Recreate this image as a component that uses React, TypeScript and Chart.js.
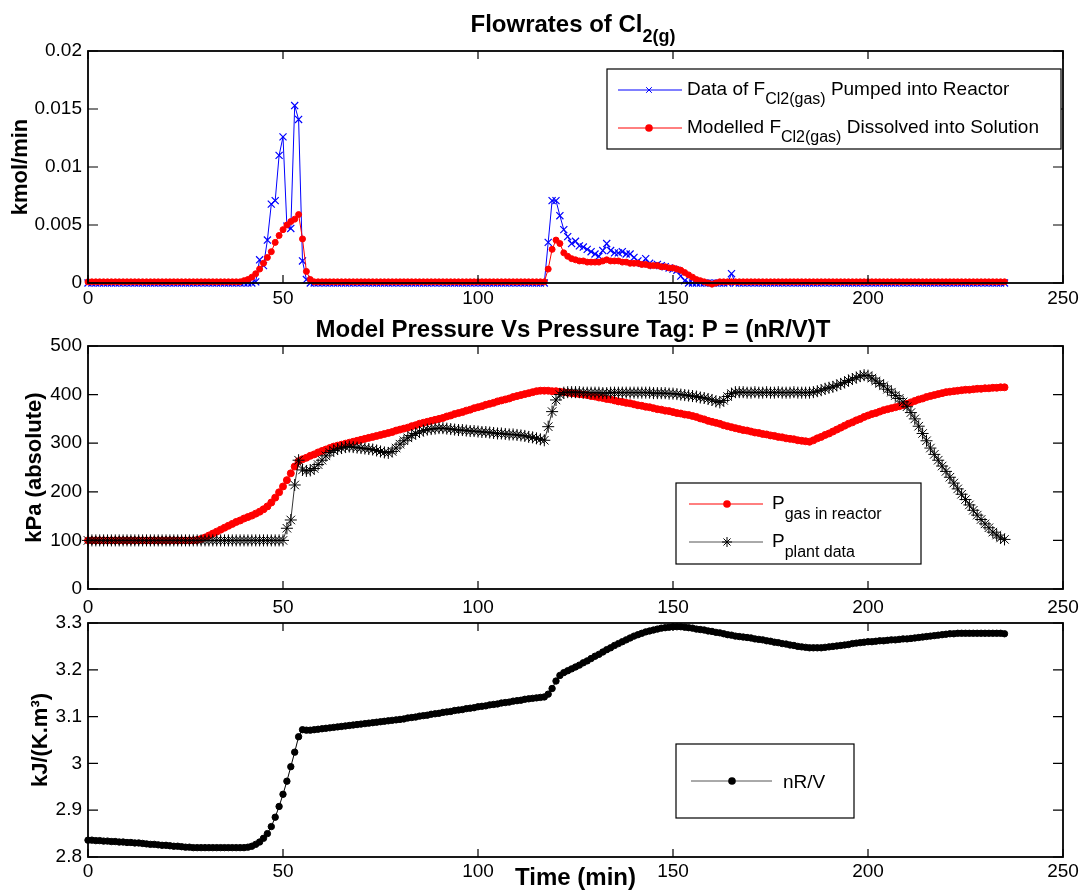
import React, { useEffect, useRef } from 'react';
import { Chart, registerables } from 'chart.js';

Chart.register(...registerables);

const FONT = "'Liberation Sans', Arial, Helvetica, sans-serif";

// ---------------- data ----------------
const TIME = [
  0, 1, 2, 3, 4, 5, 6, 7, 8, 9,
  10, 11, 12, 13, 14, 15, 16, 17, 18, 19,
  20, 21, 22, 23, 24, 25, 26, 27, 28, 29,
  30, 31, 32, 33, 34, 35, 36, 37, 38, 39,
  40, 41, 42, 43, 44, 45, 46, 47, 48, 49,
  50, 51, 52, 53, 54, 55, 56, 57, 58, 59,
  60, 61, 62, 63, 64, 65, 66, 67, 68, 69,
  70, 71, 72, 73, 74, 75, 76, 77, 78, 79,
  80, 81, 82, 83, 84, 85, 86, 87, 88, 89,
  90, 91, 92, 93, 94, 95, 96, 97, 98, 99,
  100, 101, 102, 103, 104, 105, 106, 107, 108, 109,
  110, 111, 112, 113, 114, 115, 116, 117, 118, 119,
  120, 121, 122, 123, 124, 125, 126, 127, 128, 129,
  130, 131, 132, 133, 134, 135, 136, 137, 138, 139,
  140, 141, 142, 143, 144, 145, 146, 147, 148, 149,
  150, 151, 152, 153, 154, 155, 156, 157, 158, 159,
  160, 161, 162, 163, 164, 165, 166, 167, 168, 169,
  170, 171, 172, 173, 174, 175, 176, 177, 178, 179,
  180, 181, 182, 183, 184, 185, 186, 187, 188, 189,
  190, 191, 192, 193, 194, 195, 196, 197, 198, 199,
  200, 201, 202, 203, 204, 205, 206, 207, 208, 209,
  210, 211, 212, 213, 214, 215, 216, 217, 218, 219,
  220, 221, 222, 223, 224, 225, 226, 227, 228, 229,
  230, 231, 232, 233, 234, 235,
];

// Data of F_Cl2(gas) pumped into reactor (kmol/min)
const CL2_PUMPED = [
  0, 0, 0, 0, 0, 0, 0, 0, 0, 0,
  0, 0, 0, 0, 0, 0, 0, 0, 0, 0,
  0, 0, 0, 0, 0, 0, 0, 0, 0, 0,
  0, 0, 0, 0, 0, 0, 0, 0, 0, 0,
  0, 0, 0, 0.0001, 0.002, 0.0015, 0.0037, 0.0068, 0.0071, 0.011,
  0.0126, 0.0049, 0.0047, 0.0153, 0.0141, 0.0019, 0.0003, 0, 0, 0,
  0, 0, 0, 0, 0, 0, 0, 0, 0, 0,
  0, 0, 0, 0, 0, 0, 0, 0, 0, 0,
  0, 0, 0, 0, 0, 0, 0, 0, 0, 0,
  0, 0, 0, 0, 0, 0, 0, 0, 0, 0,
  0, 0, 0, 0, 0, 0, 0, 0, 0, 0,
  0, 0, 0, 0, 0, 0, 0, 0, 0.0035, 0.0071,
  0.0071, 0.0058, 0.0046, 0.004, 0.0034, 0.0036, 0.0032, 0.0031, 0.0029, 0.0027,
  0.0025, 0.0023, 0.0028, 0.0034, 0.0028, 0.0026, 0.0026, 0.0027, 0.0025, 0.0025,
  0.0022, 0.0019, 0.0017, 0.0021, 0.0017, 0.0015, 0.0016, 0.0015, 0.0014, 0.0013,
  0.0012, 0.0011, 0.0006, 0.0002, 0, 0, 0, 0, 0, 0,
  0, 0, 0, 0, 0, 0.0008, 0, 0, 0, 0,
  0, 0, 0, 0, 0, 0, 0, 0, 0, 0,
  0, 0, 0, 0, 0, 0, 0, 0, 0, 0,
  0, 0, 0, 0, 0, 0, 0, 0, 0, 0,
  0, 0, 0, 0, 0, 0, 0, 0, 0, 0,
  0, 0, 0, 0, 0, 0, 0, 0, 0, 0,
  0, 0, 0, 0, 0, 0, 0, 0, 0, 0,
  0, 0, 0, 0, 0, 0,
];

// Modelled F_Cl2(gas) dissolved into solution (kmol/min)
const CL2_DISSOLVED = [
  0.0001, 0.0001, 0.0001, 0.0001, 0.0001, 0.0001, 0.0001, 0.0001, 0.0001, 0.0001,
  0.0001, 0.0001, 0.0001, 0.0001, 0.0001, 0.0001, 0.0001, 0.0001, 0.0001, 0.0001,
  0.0001, 0.0001, 0.0001, 0.0001, 0.0001, 0.0001, 0.0001, 0.0001, 0.0001, 0.0001,
  0.0001, 0.0001, 0.0001, 0.0001, 0.0001, 0.0001, 0.0001, 0.0001, 0.0001, 0.0001,
  0.0002, 0.0003, 0.0005, 0.0008, 0.0012, 0.0017, 0.0022, 0.0027, 0.0035, 0.0041,
  0.0046, 0.005, 0.0053, 0.0055, 0.0059, 0.0038, 0.001, 0.0003, 0.0001, 0.0001,
  0.0001, 0.0001, 0.0001, 0.0001, 0.0001, 0.0001, 0.0001, 0.0001, 0.0001, 0.0001,
  0.0001, 0.0001, 0.0001, 0.0001, 0.0001, 0.0001, 0.0001, 0.0001, 0.0001, 0.0001,
  0.0001, 0.0001, 0.0001, 0.0001, 0.0001, 0.0001, 0.0001, 0.0001, 0.0001, 0.0001,
  0.0001, 0.0001, 0.0001, 0.0001, 0.0001, 0.0001, 0.0001, 0.0001, 0.0001, 0.0001,
  0.0001, 0.0001, 0.0001, 0.0001, 0.0001, 0.0001, 0.0001, 0.0001, 0.0001, 0.0001,
  0.0001, 0.0001, 0.0001, 0.0001, 0.0001, 0.0001, 0.0001, 0.0001, 0.0012, 0.0029,
  0.0037, 0.0034, 0.0026, 0.0023, 0.0021, 0.002, 0.0019, 0.0019, 0.0018, 0.0018,
  0.0018, 0.0018, 0.0019, 0.002, 0.0019, 0.0019, 0.0019, 0.0018, 0.0018, 0.0017,
  0.0017, 0.0017, 0.0016, 0.0016, 0.0015, 0.0015, 0.0015, 0.0014, 0.0014, 0.0013,
  0.0013, 0.0012, 0.0011, 0.0009, 0.0007, 0.0005, 0.0003, 0.0002, 0.0001, 0,
  -0.0001, 0, 0.0001, 0.0001, 0.0001, 0.0001, 0.0001, 0.0001, 0.0001, 0.0001,
  0.0001, 0.0001, 0.0001, 0.0001, 0.0001, 0.0001, 0.0001, 0.0001, 0.0001, 0.0001,
  0.0001, 0.0001, 0.0001, 0.0001, 0.0001, 0.0001, 0.0001, 0.0001, 0.0001, 0.0001,
  0.0001, 0.0001, 0.0001, 0.0001, 0.0001, 0.0001, 0.0001, 0.0001, 0.0001, 0.0001,
  0.0001, 0.0001, 0.0001, 0.0001, 0.0001, 0.0001, 0.0001, 0.0001, 0.0001, 0.0001,
  0.0001, 0.0001, 0.0001, 0.0001, 0.0001, 0.0001, 0.0001, 0.0001, 0.0001, 0.0001,
  0.0001, 0.0001, 0.0001, 0.0001, 0.0001, 0.0001, 0.0001, 0.0001, 0.0001, 0.0001,
  0.0001, 0.0001, 0.0001, 0.0001, 0.0001, 0.0001,
];

// P gas in reactor (kPa absolute)
const P_GAS = [
  100, 100, 100, 100, 100, 100, 100, 100, 100, 100,
  100, 100, 100, 100, 100, 100, 100, 100, 100, 100,
  100, 100, 100, 100, 100, 100, 100, 100, 101, 103,
  106, 110, 114, 118, 122, 126, 130, 134, 138, 141,
  145, 148, 151, 155, 159, 164, 170, 178, 188, 199,
  211, 224, 238, 252, 263, 267, 270, 274, 277, 281,
  284, 287, 290, 293, 295, 297, 299, 301, 303, 305,
  307, 309, 311, 313, 315, 317, 319, 321, 323, 326,
  328, 330, 332, 335, 337, 340, 342, 344, 346, 348,
  350, 352, 355, 357, 360, 362, 364, 367, 369, 372,
  374, 376, 379, 381, 383, 386, 388, 390, 392, 395,
  397, 399, 401, 403, 405, 407, 408, 408, 408, 407,
  407, 406, 405, 404, 403, 402, 401, 400, 399, 397,
  396, 394, 393, 391, 390, 388, 386, 385, 383, 382,
  380, 378, 377, 375, 374, 372, 370, 369, 367, 366,
  364, 362, 361, 359, 358, 356, 354, 351, 349, 346,
  344, 342, 340, 337, 335, 333, 331, 329, 327, 326,
  324, 322, 321, 319, 318, 316, 315, 313, 312, 310,
  309, 308, 306, 305, 304, 303, 306, 310, 313, 317,
  320, 324, 328, 332, 336, 340, 343, 347, 350, 354,
  357, 360, 362, 365, 368, 370, 372, 374, 376, 378,
  381, 384, 387, 390, 392, 395, 397, 399, 401, 403,
  405, 406, 407, 408, 409, 410, 410, 411, 412, 412,
  413, 413, 414, 414, 415, 415,
];

// P plant data (kPa absolute)
const P_PLANT = [
  100, 100, 100, 100, 100, 100, 100, 100, 100, 100,
  100, 100, 100, 100, 100, 100, 100, 100, 100, 100,
  100, 100, 100, 100, 100, 100, 100, 100, 100, 100,
  100, 100, 100, 100, 100, 100, 100, 100, 100, 100,
  100, 100, 100, 100, 100, 100, 100, 100, 100, 100,
  100, 125, 142, 214, 265, 245, 243, 244, 248, 256,
  265, 274, 281, 285, 288, 290, 292, 293, 292, 291,
  290, 289, 288, 287, 285, 283, 281, 280, 283, 290,
  298, 305, 311, 316, 320, 323, 326, 328, 329, 330,
  331, 331, 330, 329, 328, 327, 327, 326, 325, 325,
  324, 323, 323, 322, 321, 320, 320, 319, 318, 318,
  317, 316, 315, 313, 312, 310, 308, 306, 334, 365,
  389, 400, 404, 405, 405, 405, 405, 404, 404, 404,
  404, 404, 403, 403, 404, 404, 404, 404, 404, 404,
  404, 404, 404, 404, 404, 403, 403, 403, 403, 402,
  402, 401, 400, 399, 398, 397, 396, 394, 393, 391,
  389, 386, 384, 388, 396, 402, 405, 405, 405, 404,
  404, 405, 404, 404, 405, 404, 404, 405, 404, 404,
  404, 405, 404, 404, 404, 404, 405, 407, 409, 412,
  414, 416, 419, 422, 425, 429, 432, 435, 438, 440,
  439, 434, 428, 423, 418, 411, 405, 398, 392, 385,
  375, 363, 350, 335, 320, 305, 290, 277, 265, 253,
  242, 230, 218, 206, 195, 184, 173, 162, 152, 143,
  134, 126, 117, 111, 105, 102,
];

// nR/V (kJ/(K.m3))
const NRV = [
  2.836, 2.836, 2.835, 2.835, 2.834, 2.834, 2.833, 2.833, 2.832, 2.832,
  2.831, 2.831, 2.83, 2.83, 2.829, 2.828, 2.827, 2.827, 2.826, 2.825,
  2.825, 2.824, 2.823, 2.823, 2.822, 2.821, 2.821, 2.82, 2.82, 2.82,
  2.82, 2.82, 2.82, 2.82, 2.82, 2.82, 2.82, 2.82, 2.82, 2.82,
  2.82, 2.821, 2.823, 2.827, 2.832, 2.84, 2.85, 2.865, 2.885, 2.908,
  2.934, 2.962, 2.993, 3.024, 3.057, 3.072, 3.071, 3.071, 3.072, 3.073,
  3.074, 3.075, 3.076, 3.077, 3.078, 3.079, 3.08, 3.081, 3.082, 3.083,
  3.084, 3.085, 3.086, 3.087, 3.088, 3.089, 3.09, 3.091, 3.092, 3.093,
  3.094, 3.095, 3.097, 3.098, 3.099, 3.101, 3.102, 3.103, 3.105, 3.106,
  3.107, 3.109, 3.11, 3.111, 3.113, 3.114, 3.115, 3.117, 3.118, 3.119,
  3.121, 3.122, 3.123, 3.125, 3.126, 3.127, 3.129, 3.13, 3.131, 3.133,
  3.134, 3.135, 3.137, 3.138, 3.139, 3.14, 3.141, 3.142, 3.148, 3.16,
  3.176, 3.188, 3.194, 3.198, 3.202, 3.206, 3.21, 3.215, 3.219, 3.224,
  3.229, 3.233, 3.238, 3.243, 3.247, 3.252, 3.256, 3.26, 3.264, 3.268,
  3.272, 3.275, 3.278, 3.281, 3.283, 3.285, 3.287, 3.289, 3.29, 3.291,
  3.292, 3.292, 3.292, 3.291, 3.29, 3.289, 3.287, 3.286, 3.285, 3.283,
  3.282, 3.28, 3.279, 3.277, 3.275, 3.274, 3.272, 3.271, 3.27, 3.269,
  3.268, 3.266, 3.265, 3.264, 3.262, 3.261, 3.259, 3.258, 3.256, 3.255,
  3.253, 3.252, 3.25, 3.249, 3.248, 3.247, 3.247, 3.247, 3.247, 3.248,
  3.249, 3.25, 3.251, 3.252, 3.253, 3.254, 3.256, 3.257, 3.258, 3.259,
  3.26, 3.26, 3.261, 3.262, 3.262, 3.263, 3.264, 3.264, 3.265, 3.266,
  3.266, 3.267, 3.268, 3.269, 3.27, 3.271, 3.272, 3.273, 3.274, 3.275,
  3.276, 3.277, 3.277, 3.278, 3.278, 3.278, 3.278, 3.278, 3.278, 3.278,
  3.278, 3.278, 3.278, 3.278, 3.278, 3.277,
];

const X_TICKS = [0, 50, 100, 150, 200, 250];
const FLOW_TICKS = [0, 0.005, 0.01, 0.015, 0.02];
const FLOW_TICK_LABELS = ['0', '0.005', '0.01', '0.015', '0.02'];
const PRESS_TICKS = [0, 100, 200, 300, 400, 500];
const PRESS_TICK_LABELS = ['0', '100', '200', '300', '400', '500'];
const NRV_TICKS = [2.8, 2.9, 3, 3.1, 3.2, 3.3];
const NRV_TICK_LABELS = ['2.8', '2.9', '3', '3.1', '3.2', '3.3'];

const pts = (ys: number[]) => TIME.map((t, i) => ({ x: t, y: ys[i] }));

// ---------------- drawing helpers ----------------
type Seg = { t: string; sub?: boolean };

function richWidth(ctx: CanvasRenderingContext2D, segs: Seg[], mainFont: string, subFont: string) {
  let w = 0;
  for (const s of segs) {
    ctx.font = s.sub ? subFont : mainFont;
    w += ctx.measureText(s.t).width;
  }
  return w;
}

function drawRich(ctx: CanvasRenderingContext2D, segs: Seg[], x: number, base: number, mainFont: string, subFont: string, subDy: number) {
  let cx = x;
  ctx.textAlign = 'left';
  ctx.textBaseline = 'alphabetic';
  for (const s of segs) {
    ctx.font = s.sub ? subFont : mainFont;
    ctx.fillText(s.t, cx, s.sub ? base + subDy : base);
    cx += ctx.measureText(s.t).width;
  }
}

function drawMarker(ctx: CanvasRenderingContext2D, kind: string, x: number, y: number, color: string, r: number) {
  ctx.save();
  ctx.strokeStyle = color;
  ctx.fillStyle = color;
  ctx.lineWidth = 1;
  ctx.beginPath();
  if (kind === 'circle') {
    ctx.arc(x, y, r, 0, Math.PI * 2);
    ctx.fill();
  } else {
    const angles = kind === 'star' ? [0, 45, 90, 135] : [45, 135];
    for (const a of angles) {
      const dx = Math.cos((a * Math.PI) / 180) * r;
      const dy = Math.sin((a * Math.PI) / 180) * r;
      ctx.moveTo(x - dx, y - dy);
      ctx.lineTo(x + dx, y + dy);
    }
    ctx.stroke();
  }
  ctx.restore();
}

type Row = { dy: number; segs: Seg[]; lineColor: string; markerColor: string; marker: string; r: number };
type DecorCfg = {
  title?: { segs: Seg[]; cx: number; base: number; size: number; subSize: number; subDy: number };
  legend: {
    x: number; y: number; w: number; h: number;
    lineX0: number; lineX1: number; markerX: number; textX: number;
    baseDy: number; size: number; subSize: number; subDy: number;
    rows: Row[];
  };
};

function decorPlugin(id: string, cfg: DecorCfg) {
  return {
    id,
    afterDraw(chart: any) {
      const { ctx, chartArea: a, scales } = chart;
      const xs = scales.x;
      const ys = scales.y;
      ctx.save();
      // axes box with inward ticks (MATLAB style)
      ctx.strokeStyle = '#000';
      ctx.lineWidth = 1.8;
      ctx.strokeRect(a.left, a.top, a.right - a.left, a.bottom - a.top);
      ctx.lineWidth = 1.2;
      ctx.beginPath();
      for (const t of xs.ticks) {
        const px = xs.getPixelForValue(t.value);
        ctx.moveTo(px, a.bottom);
        ctx.lineTo(px, a.bottom - 8);
        ctx.moveTo(px, a.top);
        ctx.lineTo(px, a.top + 8);
      }
      for (const t of ys.ticks) {
        const py = ys.getPixelForValue(t.value);
        ctx.moveTo(a.left, py);
        ctx.lineTo(a.left + 10, py);
        ctx.moveTo(a.right, py);
        ctx.lineTo(a.right - 10, py);
      }
      ctx.stroke();

      // title
      if (cfg.title) {
        const T = cfg.title;
        const mf = `bold ${T.size}px ${FONT}`;
        const sf = `bold ${T.subSize}px ${FONT}`;
        const w = richWidth(ctx, T.segs, mf, sf);
        ctx.fillStyle = '#000';
        drawRich(ctx, T.segs, T.cx - w / 2, T.base, mf, sf, T.subDy);
      }

      // legend
      const L = cfg.legend;
      const lx = a.left + L.x;
      const ly = a.top + L.y;
      ctx.fillStyle = '#fff';
      ctx.fillRect(lx, ly, L.w, L.h);
      ctx.strokeStyle = '#000';
      ctx.lineWidth = 1.2;
      ctx.strokeRect(lx, ly, L.w, L.h);
      const mf = `${L.size}px ${FONT}`;
      const sf = `${L.subSize}px ${FONT}`;
      for (const row of L.rows) {
        const ry = a.top + row.dy;
        ctx.strokeStyle = row.lineColor;
        ctx.lineWidth = 1;
        ctx.beginPath();
        ctx.moveTo(a.left + L.lineX0, ry);
        ctx.lineTo(a.left + L.lineX1, ry);
        ctx.stroke();
        drawMarker(ctx, row.marker, a.left + L.markerX, ry, row.markerColor, row.r);
        ctx.fillStyle = '#000';
        drawRich(ctx, row.segs, a.left + L.textX, ry + L.baseDy, mf, sf, L.subDy);
      }
      ctx.restore();
    },
  };
}

type AxisCfg = {
  areaTop: number;
  xAxisH: number;
  xPad: number;
  xTitle?: string;
  yMin: number;
  yMax: number;
  yTicks: number[];
  yLabels: string[];
  yTitle: string;
  yTitlePad: number;
};

function makeConfig(datasets: any[], ax: AxisCfg, plugin: any) {
  return {
    type: 'line',
    data: { datasets },
    options: {
      animation: false,
      responsive: false,
      maintainAspectRatio: false,
      events: [],
      layout: { padding: { left: 0, right: 23, top: ax.areaTop, bottom: 0 } },
      plugins: {
        legend: { display: false },
        title: { display: false },
        tooltip: { enabled: false },
      },
      elements: { line: { tension: 0 } },
      scales: {
        x: {
          type: 'linear',
          min: 0,
          max: 250,
          afterBuildTicks: (s: any) => {
            s.ticks = X_TICKS.map((v) => ({ value: v }));
          },
          afterFit: (s: any) => {
            s.height = ax.xAxisH;
          },
          grid: { display: false, drawTicks: false },
          border: { display: false },
          ticks: {
            padding: ax.xPad,
            color: '#000',
            font: { family: FONT, size: 19 },
            maxRotation: 0,
            autoSkip: false,
            callback: (v: any) => String(v),
          },
          title: ax.xTitle
            ? {
                display: true,
                text: ax.xTitle,
                color: '#000',
                font: { family: FONT, size: 24, weight: 'bold' },
                padding: { top: 0, bottom: 0 },
              }
            : { display: false },
        },
        y: {
          type: 'linear',
          min: ax.yMin,
          max: ax.yMax,
          afterBuildTicks: (s: any) => {
            s.ticks = ax.yTicks.map((v) => ({ value: v }));
          },
          afterFit: (s: any) => {
            s.width = 88;
          },
          grid: { display: false, drawTicks: false },
          border: { display: false },
          ticks: {
            padding: 6,
            color: '#000',
            font: { family: FONT, size: 19 },
            autoSkip: false,
            callback: (_v: any, i: number) => ax.yLabels[i],
          },
          title: {
            display: true,
            text: ax.yTitle,
            color: '#000',
            font: { family: FONT, size: 22, weight: 'bold' },
            padding: { top: ax.yTitlePad, bottom: 0 },
          },
        },
      },
    },
    plugins: [plugin],
  } as any;
}

// ---------------- chart configs ----------------
function flowConfig() {
  const datasets = [
    {
      label: 'Modelled F Cl2(gas) Dissolved into Solution',
      data: pts(CL2_DISSOLVED),
      borderColor: '#ff0000',
      backgroundColor: '#ff0000',
      borderWidth: 1,
      pointStyle: 'circle',
      pointRadius: 3,
      pointBorderWidth: 1,
      pointBackgroundColor: '#ff0000',
      pointBorderColor: '#ff0000',
      clip: false,
      order: 0,
    },
    {
      label: 'Data of F Cl2(gas) Pumped into Reactor',
      data: pts(CL2_PUMPED),
      borderColor: '#0000ff',
      backgroundColor: '#0000ff',
      borderWidth: 1,
      pointStyle: 'crossRot',
      pointRadius: 5,
      pointBorderWidth: 1.2,
      pointBorderColor: '#0000ff',
      clip: false,
      order: 1,
    },
  ];
  const plugin = decorPlugin('decorFlow', {
    title: {
      segs: [{ t: 'Flowrates of Cl' }, { t: '2(g)', sub: true }],
      cx: 573,
      base: 32,
      size: 24,
      subSize: 18,
      subDy: 10,
    },
    legend: {
      x: 519, y: 18, w: 454, h: 80,
      lineX0: 530, lineX1: 594, markerX: 561, textX: 599,
      baseDy: 5, size: 19, subSize: 16, subDy: 9,
      rows: [
        {
          dy: 39,
          segs: [{ t: 'Data of F' }, { t: 'Cl2(gas)', sub: true }, { t: ' Pumped into Reactor' }],
          lineColor: '#0000ff', markerColor: '#0000ff', marker: 'crossRot', r: 4,
        },
        {
          dy: 77,
          segs: [{ t: 'Modelled F' }, { t: 'Cl2(gas)', sub: true }, { t: ' Dissolved into Solution' }],
          lineColor: '#ff0000', markerColor: '#ff0000', marker: 'circle', r: 3.8,
        },
      ],
    },
  });
  return makeConfig(
    datasets,
    {
      areaTop: 51, xAxisH: 29, xPad: 4,
      yMin: 0, yMax: 0.02, yTicks: FLOW_TICKS, yLabels: FLOW_TICK_LABELS,
      yTitle: 'kmol/min', yTitlePad: 8,
    },
    plugin
  );
}

function pressureConfig() {
  const datasets = [
    {
      label: 'P plant data',
      data: pts(P_PLANT),
      borderColor: '#000000',
      borderWidth: 0.8,
      pointStyle: 'star',
      pointRadius: 6,
      pointBorderWidth: 1,
      pointBorderColor: '#000000',
      clip: false,
      order: 0,
    },
    {
      label: 'P gas in reactor',
      data: pts(P_GAS),
      borderColor: '#ff0000',
      backgroundColor: '#ff0000',
      borderWidth: 1,
      pointStyle: 'circle',
      pointRadius: 3.5,
      pointBorderWidth: 1,
      pointBackgroundColor: '#ff0000',
      pointBorderColor: '#ff0000',
      clip: false,
      order: 1,
    },
  ];
  const plugin = decorPlugin('decorPress', {
    title: {
      segs: [{ t: 'Model Pressure Vs Pressure Tag: P = (nR/V)T' }],
      cx: 573,
      base: 25,
      size: 24,
      subSize: 18,
      subDy: 10,
    },
    legend: {
      x: 588, y: 137, w: 245, h: 81,
      lineX0: 601, lineX1: 675, markerX: 639, textX: 684,
      baseDy: 5, size: 19, subSize: 16, subDy: 10,
      rows: [
        {
          dy: 158,
          segs: [{ t: 'P' }, { t: 'gas in reactor', sub: true }],
          lineColor: '#ff0000', markerColor: '#ff0000', marker: 'circle', r: 3.8,
        },
        {
          dy: 196,
          segs: [{ t: 'P' }, { t: 'plant data', sub: true }],
          lineColor: '#555555', markerColor: '#000000', marker: 'star', r: 5,
        },
      ],
    },
  });
  return makeConfig(
    datasets,
    {
      areaTop: 34, xAxisH: 29, xPad: 7,
      yMin: 0, yMax: 500, yTicks: PRESS_TICKS, yLabels: PRESS_TICK_LABELS,
      yTitle: 'kPa (absolute)', yTitlePad: 22,
    },
    plugin
  );
}

function nrvConfig() {
  const datasets = [
    {
      label: 'nR/V',
      data: pts(NRV),
      borderColor: '#000000',
      backgroundColor: '#000000',
      borderWidth: 1,
      pointStyle: 'circle',
      pointRadius: 3.2,
      pointBorderWidth: 1,
      pointBackgroundColor: '#000000',
      pointBorderColor: '#000000',
      clip: false,
    },
  ];
  const plugin = decorPlugin('decorNrv', {
    legend: {
      x: 588, y: 121, w: 178, h: 74,
      lineX0: 603, lineX1: 684, markerX: 644, textX: 695,
      baseDy: 7, size: 19, subSize: 16, subDy: 10,
      rows: [
        {
          dy: 158,
          segs: [{ t: 'nR/V' }],
          lineColor: '#555555', markerColor: '#000000', marker: 'circle', r: 3.8,
        },
      ],
    },
  });
  return makeConfig(
    datasets,
    {
      areaTop: 23, xAxisH: 36, xPad: 3, xTitle: 'Time (min)',
      yMin: 2.8, yMax: 3.3, yTicks: NRV_TICKS, yLabels: NRV_TICK_LABELS,
      yTitle: 'kJ/(K.m³)', yTitlePad: 28,
    },
    plugin
  );
}

export default function App() {
  const r1 = useRef<HTMLCanvasElement>(null);
  const r2 = useRef<HTMLCanvasElement>(null);
  const r3 = useRef<HTMLCanvasElement>(null);

  useEffect(() => {
    Chart.defaults.font.family = FONT;
    Chart.defaults.color = '#000';
    const charts = [
      new Chart(r1.current as HTMLCanvasElement, flowConfig()),
      new Chart(r2.current as HTMLCanvasElement, pressureConfig()),
      new Chart(r3.current as HTMLCanvasElement, nrvConfig()),
    ];
    return () => charts.forEach((c) => c.destroy());
  }, []);

  return (
    <div style={{ position: 'absolute', left: 0, top: 0, width: 1086, height: 893, background: '#fff', overflow: 'hidden' }}>
      <canvas ref={r1} width={1086} height={312} style={{ position: 'absolute', left: 0, top: 0, width: 1086, height: 312 }} />
      <canvas ref={r2} width={1086} height={306} style={{ position: 'absolute', left: 0, top: 312, width: 1086, height: 306 }} />
      <canvas ref={r3} width={1086} height={293} style={{ position: 'absolute', left: 0, top: 600, width: 1086, height: 293 }} />
    </div>
  );
}
